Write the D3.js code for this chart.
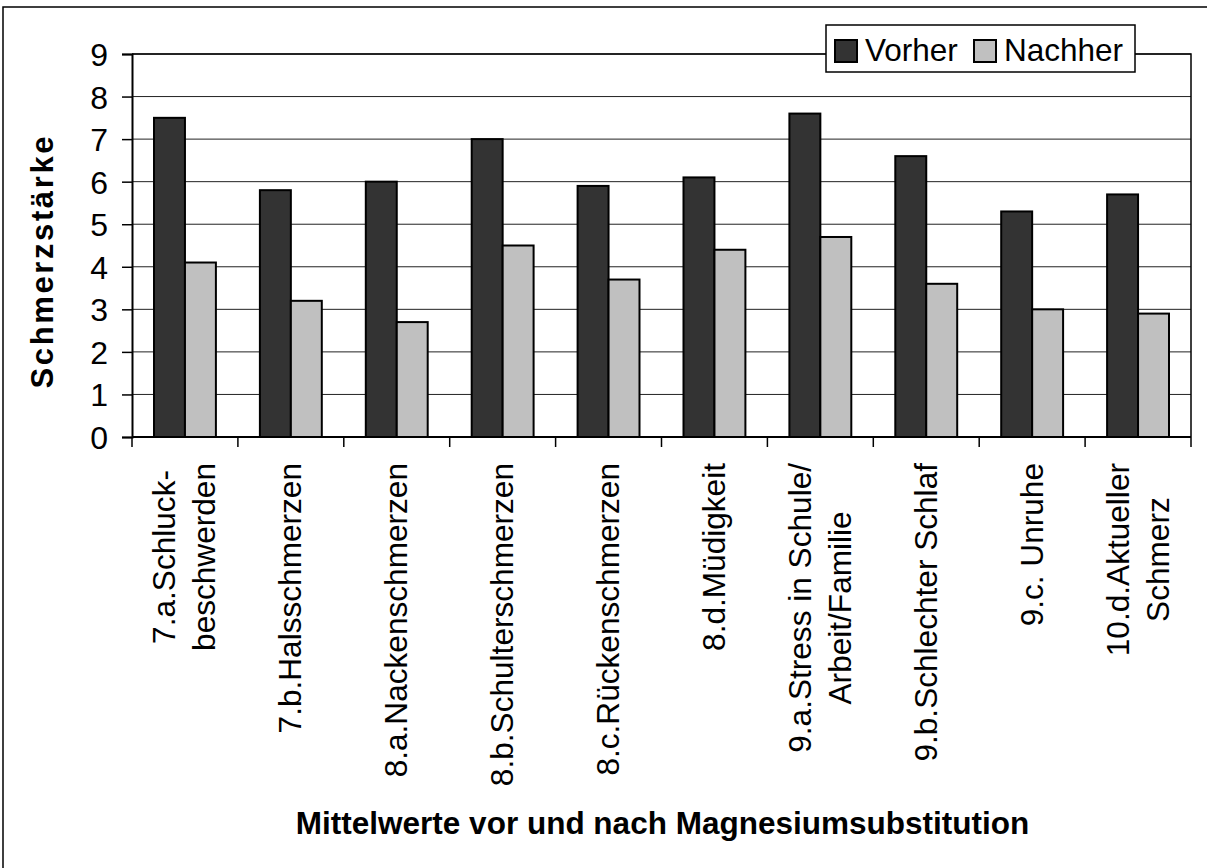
<!DOCTYPE html>
<html>
<head>
<meta charset="utf-8">
<script src="https://cdn.jsdelivr.net/npm/d3@7"></script>
<style>
  html, body { margin: 0; padding: 0; background: #fff; }
  svg { display: block; font-family: "Liberation Sans", Arial, sans-serif; }
</style>
</head>
<body>
<svg id="chart" width="1207" height="868"></svg>
<script>
const categories = [
  ["7.a.Schluck-", "beschwerden"],
  ["7.b.Halsschmerzen"],
  ["8.a.Nackenschmerzen"],
  ["8.b.Schulterschmerzen"],
  ["8.c.Rückenschmerzen"],
  ["8.d.Müdigkeit"],
  ["9.a.Stress in Schule/", "Arbeit/Familie"],
  ["9.b.Schlechter Schlaf"],
  ["9.c. Unruhe"],
  ["10.d.Aktueller", "Schmerz"]
];
const seriesNames = ["Vorher", "Nachher"];
const vorher  = [7.5, 5.8, 6.0, 7.0, 5.9, 6.1, 7.6, 6.6, 5.3, 5.7];
const nachher = [4.1, 3.2, 2.7, 4.5, 3.7, 4.4, 4.7, 3.6, 3.0, 2.9];
const yTicks = [0, 1, 2, 3, 4, 5, 6, 7, 8, 9];
const yTitle = "Schmerzstärke";
const xTitle = "Mittelwerte vor und nach Magnesiumsubstitution";

const colors = ["#333333", "#c0c0c0"];
const svg = d3.select("#chart");

// outer chart border
svg.append("rect").attr("x", 3).attr("y", 7).attr("width", 1220).attr("height", 880)
  .attr("fill", "none").attr("stroke", "#000").attr("stroke-width", 1.5);

const plot = { left: 132, right: 1191, top: 54, bottom: 437 };
const idx = categories.map((d, i) => i);
const x0 = d3.scaleBand().domain(idx).range([plot.left, plot.right]).paddingInner(0).paddingOuter(0);
const inner = 22;
const x1 = d3.scaleBand().domain([0, 1]).range([inner, x0.bandwidth() - inner]);
const y = d3.scaleLinear().domain([0, 9]).range([plot.bottom, plot.top]);

// gridlines
svg.append("g").selectAll("line").data(yTicks.slice(1)).join("line")
  .attr("x1", plot.left).attr("x2", plot.right)
  .attr("y1", d => y(d)).attr("y2", d => y(d))
  .attr("stroke", "#222").attr("stroke-width", 1);

// plot area border top/right
svg.append("path")
  .attr("d", `M${plot.left},${y(9)}H${plot.right}V${plot.bottom}`)
  .attr("fill", "none").attr("stroke", "#000").attr("stroke-width", 1.5);

// bars
const series = [vorher, nachher];
const gBars = svg.append("g");
series.forEach((vals, s) => {
  gBars.selectAll(null).data(vals).join("rect")
    .attr("x", (d, i) => x0(i) + x1(s))
    .attr("y", d => y(d))
    .attr("width", x1.bandwidth())
    .attr("height", d => y(0) - y(d))
    .attr("fill", colors[s])
    .attr("stroke", "#000").attr("stroke-width", 2);
});

// y axis
const yAxis = d3.axisLeft(y).tickValues(yTicks).tickSize(10).tickPadding(14).tickFormat(d3.format("d"));
const gy = svg.append("g").attr("transform", `translate(${plot.left},0)`).call(yAxis);
gy.select(".domain").attr("stroke", "#000").attr("stroke-width", 2);
gy.selectAll(".tick line").attr("stroke", "#000").attr("stroke-width", 1.5);
gy.selectAll(".tick text").attr("font-size", 32).attr("fill", "#000")
  .attr("font-family", '"Liberation Sans", Arial, sans-serif').attr("dy", "0.36em");

// x axis line and ticks at boundaries
const bounds = d3.range(categories.length + 1).map(i => plot.left + i * x0.bandwidth());
const gx = svg.append("g");
gx.append("line").attr("x1", plot.left).attr("x2", plot.right)
  .attr("y1", plot.bottom).attr("y2", plot.bottom)
  .attr("stroke", "#000").attr("stroke-width", 2);
gx.selectAll("line.tk").data(bounds).join("line").attr("class", "tk")
  .attr("x1", d => d).attr("x2", d => d)
  .attr("y1", plot.bottom).attr("y2", plot.bottom + 10)
  .attr("stroke", "#000").attr("stroke-width", 1.5);

// category labels (rotated, block anchored at top, lines centered)
const labelTop = 463;
const lineGap = 40;
categories.forEach((lines, i) => {
  const cx = x0(i) + x0.bandwidth() / 2;
  const g = svg.append("g").attr("transform", `translate(${cx},${labelTop}) rotate(-90)`);
  const texts = lines.map((t, j) => g.append("text")
    .attr("font-size", 31.6).attr("fill", "#000")
    .attr("text-anchor", "middle")
    .attr("y", 10.5 + (j - (lines.length - 1) / 2) * lineGap)
    .text(t));
  const maxLen = d3.max(texts, t => t.node().getComputedTextLength());
  texts.forEach(t => t.attr("x", -maxLen / 2));
});

// axis titles
svg.append("text")
  .attr("transform", `translate(53,${(plot.top + plot.bottom) / 2 + 17}) rotate(-90)`)
  .attr("text-anchor", "middle").attr("font-size", 31).attr("font-weight", "bold")
  .attr("textLength", 252).attr("lengthAdjust", "spacing")
  .text(yTitle);
svg.append("text")
  .attr("x", (plot.left + plot.right) / 2 + 1).attr("y", 834)
  .attr("text-anchor", "middle").attr("font-size", 31.5).attr("font-weight", "bold")
  .text(xTitle);

// legend
const lg = svg.append("g");
lg.append("rect").attr("x", 826).attr("y", 25).attr("width", 309).attr("height", 47)
  .attr("fill", "#fff").attr("stroke", "#000").attr("stroke-width", 1.5);
const legendX = [835, 974];
seriesNames.forEach((name, s) => {
  lg.append("rect").attr("x", legendX[s]).attr("y", 40).attr("width", 22).attr("height", 22)
    .attr("fill", colors[s]).attr("stroke", "#000").attr("stroke-width", 2);
  lg.append("text").attr("x", legendX[s] + 30).attr("y", 61)
    .attr("font-size", 31.5).attr("fill", "#000").text(name);
});
</script>
</body>
</html>
